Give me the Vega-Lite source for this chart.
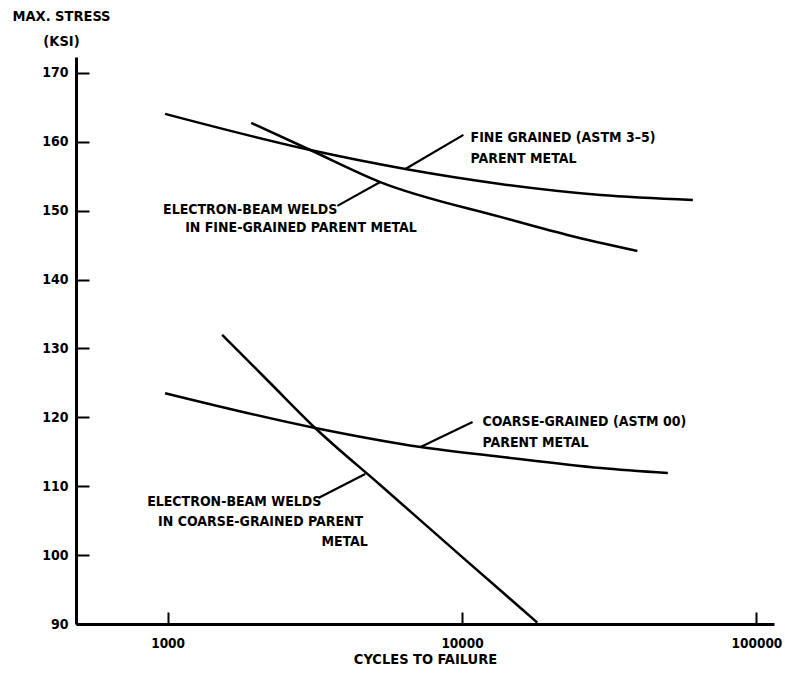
{
  "$schema": "https://vega.github.io/schema/vega-lite/v6.json",
  "width": 698,
  "height": 567,
  "autosize": "none",
  "padding": {"left": 76, "top": 57, "right": 11, "bottom": 53},
  "background": "white",
  "config": {
    "view": {"stroke": null},
    "font": "DejaVu Sans Condensed"
  },
  "datasets": {
    "curves": [
      {"series": "Fine grained parent", "x": 980, "y": 164.05},
      {"series": "Fine grained parent", "x": 3052, "y": 158.8},
      {"series": "Fine grained parent", "x": 6420, "y": 156.05},
      {"series": "Fine grained parent", "x": 13490, "y": 153.88},
      {"series": "Fine grained parent", "x": 29580, "y": 152.28},
      {"series": "Fine grained parent", "x": 60800, "y": 151.56},
      {"series": "EB welds fine", "x": 1923, "y": 162.74},
      {"series": "EB welds fine", "x": 3052, "y": 158.8},
      {"series": "EB welds fine", "x": 5275, "y": 154.15},
      {"series": "EB welds fine", "x": 13490, "y": 149.09},
      {"series": "EB welds fine", "x": 22790, "y": 146.47},
      {"series": "EB welds fine", "x": 39410, "y": 144.15},
      {"series": "Coarse grained parent", "x": 980, "y": 123.5},
      {"series": "Coarse grained parent", "x": 3171, "y": 118.45},
      {"series": "Coarse grained parent", "x": 7230, "y": 115.69},
      {"series": "Coarse grained parent", "x": 13490, "y": 114.28},
      {"series": "Coarse grained parent", "x": 29580, "y": 112.64},
      {"series": "Coarse grained parent", "x": 50000, "y": 111.9},
      {"series": "EB welds coarse", "x": 1532, "y": 131.95},
      {"series": "EB welds coarse", "x": 2230, "y": 124.98},
      {"series": "EB welds coarse", "x": 3171, "y": 118.45},
      {"series": "EB welds coarse", "x": 5275, "y": 110.17},
      {"series": "EB welds coarse", "x": 10020, "y": 99.71},
      {"series": "EB welds coarse", "x": 18020, "y": 90.2}
    ],
    "leaders": [
      {"x": 6420, "y": 156.05, "x2": 10110, "y2": 161.0},
      {"x": 5275, "y": 154.15, "x2": 3772, "y2": 150.69},
      {"x": 7230, "y": 115.69, "x2": 10860, "y2": 119.32},
      {"x": 4690, "y": 111.77, "x2": 3251, "y2": 108.28}
    ],
    "labels": [
      {"x": 10690, "y": 160.56, "text": "FINE GRAINED (ASTM 3–5)"},
      {"x": 10690, "y": 157.51, "text": "PARENT METAL"},
      {"x": 965, "y": 150.1, "text": "ELECTRON-BEAM WELDS"},
      {"x": 1147, "y": 147.49, "text": "IN FINE-GRAINED PARENT METAL"},
      {"x": 11740, "y": 119.32, "text": "COARSE-GRAINED (ASTM 00)"},
      {"x": 11740, "y": 116.27, "text": "PARENT METAL"},
      {"x": 852, "y": 107.7, "text": "ELECTRON-BEAM WELDS"},
      {"x": 928, "y": 104.8, "text": "IN COARSE-GRAINED PARENT"},
      {"x": 3330, "y": 101.9, "text": "METAL"}
    ]
  },
  "encoding": {
    "x": {
      "field": "x",
      "type": "quantitative",
      "scale": {"type": "log", "domain": [488.5, 114700], "nice": false, "zero": false},
      "axis": {
        "values": [1000, 10000, 100000],
        "format": "d",
        "grid": false,
        "tickSize": -12,
        "tickWidth": 2,
        "tickColor": "black",
        "domainWidth": 3,
        "domainColor": "black",
        "labelPadding": 24,
        "labelFont": "DejaVu Sans Condensed",
        "labelFontSize": 13.5,
        "labelFontWeight": "bold",
        "labelColor": "black",
        "labelFlush": false,
        "labelOverlap": false,
        "title": "CYCLES TO FAILURE",
        "titleFont": "DejaVu Sans Condensed",
        "titleFontSize": 14.5,
        "titleFontWeight": "bold",
        "titleColor": "black",
        "titlePadding": 3
      }
    },
    "y": {
      "field": "y",
      "type": "quantitative",
      "scale": {"domain": [90, 172.3], "nice": false, "zero": false},
      "axis": {
        "values": [90, 100, 110, 120, 130, 140, 150, 160, 170],
        "grid": false,
        "tickSize": -13,
        "tickWidth": 2,
        "tickColor": "black",
        "domainWidth": 3,
        "domainColor": "black",
        "labelPadding": 21,
        "labelFont": "DejaVu Sans Condensed",
        "labelFontSize": 14,
        "labelFontWeight": "bold",
        "labelColor": "black",
        "labelOverlap": false,
        "title": ["MAX. STRESS", "(KSI)"],
        "titleFont": "DejaVu Sans Condensed",
        "titleFontSize": 14.5,
        "titleFontWeight": "bold",
        "titleColor": "black",
        "titleAngle": 0,
        "titleAlign": "center",
        "titleBaseline": "top",
        "titleLineHeight": 25,
        "titleX": -15,
        "titleY": -48
      }
    }
  },
  "layer": [
    {
      "data": {"name": "curves"},
      "mark": {"type": "line", "color": "black", "strokeWidth": 2.5, "interpolate": "monotone"},
      "encoding": {"detail": {"field": "series", "type": "nominal"}}
    },
    {
      "data": {"name": "leaders"},
      "mark": {"type": "rule", "color": "black", "strokeWidth": 2.2},
      "encoding": {
        "x2": {"field": "x2"},
        "y2": {"field": "y2"}
      }
    },
    {
      "data": {"name": "labels"},
      "mark": {
        "type": "text",
        "align": "left",
        "baseline": "middle",
        "font": "DejaVu Sans Condensed",
        "fontSize": 14,
        "fontWeight": "bold",
        "color": "black"
      },
      "encoding": {"text": {"field": "text", "type": "nominal"}}
    }
  ]
}
